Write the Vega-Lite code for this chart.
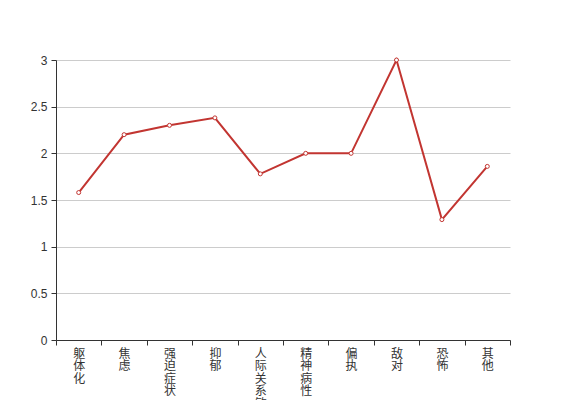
{
  "$schema": "https://vega.github.io/schema/vega-lite/v6.json",
  "width": 454,
  "height": 280,
  "autosize": "none",
  "padding": {"left": 56, "top": 60, "right": 57, "bottom": 60},
  "background": "white",
  "config": {"view": {"stroke": null}, "font": "Liberation Sans, Noto Sans CJK SC, sans-serif"},
  "data": {
    "values": [
      {"factor": "躯体化", "score": 1.58},
      {"factor": "焦虑", "score": 2.2},
      {"factor": "强迫症状", "score": 2.3},
      {"factor": "抑郁", "score": 2.38},
      {"factor": "人际关系敏感", "score": 1.78},
      {"factor": "精神病性", "score": 2.0},
      {"factor": "偏执", "score": 2.0},
      {"factor": "敌对", "score": 3.0},
      {"factor": "恐怖", "score": 1.29},
      {"factor": "其他", "score": 1.86}
    ]
  },
  "encoding": {
    "x": {
      "field": "factor",
      "type": "nominal",
      "sort": null,
      "scale": {"type": "band", "paddingInner": 0, "paddingOuter": 0},
      "axis": {
        "title": null,
        "labelAngle": 0,
        "labelExpr": "split(datum.label, '')",
        "labelLineHeight": 12.5,
        "labelFontSize": 12,
        "labelColor": "#333",
        "labelBaseline": "top",
        "labelPadding": 3,
        "tickBand": "extent",
        "tickColor": "#333",
        "tickSize": 5,
        "domainColor": "#333",
        "grid": false
      }
    },
    "y": {
      "field": "score",
      "type": "quantitative",
      "scale": {"domain": [0, 3], "nice": false},
      "axis": {
        "title": null,
        "values": [0, 0.5, 1, 1.5, 2, 2.5, 3],
        "format": "~g",
        "labelFontSize": 12,
        "labelColor": "#333",
        "labelPadding": 4,
        "tickColor": "#333",
        "tickSize": 5,
        "domainColor": "#333",
        "gridColor": "#ccc",
        "gridOpacity": 1
      }
    }
  },
  "layer": [
    {"mark": {"type": "line", "color": "#c23531", "strokeWidth": 2}},
    {"mark": {"type": "point", "shape": "circle", "filled": true, "fill": "white", "stroke": "#c23531", "strokeWidth": 1, "size": 16, "opacity": 1}}
  ]
}
